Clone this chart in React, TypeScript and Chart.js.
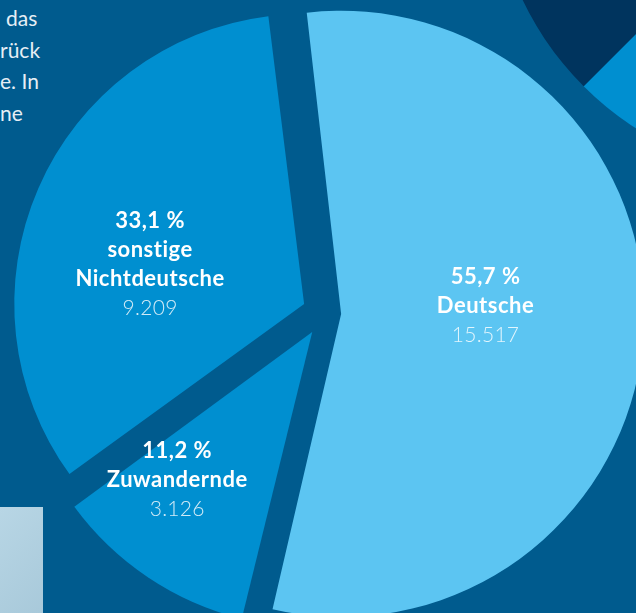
import React, { useEffect, useRef } from "react";
import { Chart, registerables } from "chart.js";

Chart.register(...registerables);

// ---- data ----
const categories = ["Deutsche", "Zuwandernde", "sonstige Nichtdeutsche"];
const labelLines = [["Deutsche"], ["Zuwandernde"], ["sonstige", "Nichtdeutsche"]];
const counts = [15517, 3126, 9209];
const sliceColors = ["#5cc5f2", "#008fd0", "#008fd0"];
const sliceOffsets = [64.6, 92, 91];
const labelTurn = [-6.5, 8.6, -9.2];
const labelReach = [0.504, 0.698, 0.554];

const cornerValues = [25, 75];
const cornerColors = ["#008fd0", "#00345e"];

const introFragments = ["das", "rück", "e. In", "ne"];
const introIndent = [6, 0, 0, 0];

const BG = "#005b8e";
const FONT = "Lato, 'Open Sans', sans-serif";

const total = counts.reduce((a, b) => a + b, 0);
const fmtPct = (v: number) => ((v / total) * 100).toFixed(1).replace(".", ",") + " %";
const fmtNum = (v: number) => String(v).replace(/\B(?=(\d{3})+(?!\d))/g, ".");

const labelPlugin = {
  id: "sliceLabels",
  afterDatasetsDraw(chart: any) {
    const meta = chart.getDatasetMeta(0);
    const ctx = chart.ctx as any;
    ctx.save();
    ctx.textAlign = "center";
    ctx.textBaseline = "middle";
    meta.data.forEach((arc: any, i: number) => {
      const p = arc.getProps(["x", "y", "startAngle", "endAngle", "outerRadius"], true);
      const mid = (p.startAngle + p.endAngle) / 2;
      const shift = (arc.options.offset || 0) / 4;
      const ax = p.x + Math.cos(mid) * shift;
      const ay = p.y + Math.sin(mid) * shift;
      const ang = mid + (labelTurn[i] * Math.PI) / 180;
      const dist = p.outerRadius * labelReach[i];
      const cx = ax + Math.cos(ang) * dist;
      const cy = ay + Math.sin(ang) * dist;
      const bold = [fmtPct(counts[i]), ...labelLines[i]];
      const n = bold.length + 1;
      const lh = 29;
      const y0 = cy - ((n - 1) * lh) / 2;
      ctx.fillStyle = "#ffffff";
      ctx.font = `700 22px ${FONT}`;
      ctx.letterSpacing = "0.5px";
      bold.forEach((t, k) => ctx.fillText(t, cx, y0 + k * lh));
      ctx.font = `300 21px ${FONT}`;
      ctx.letterSpacing = "0.3px";
      ctx.fillStyle = "rgba(255,255,255,0.82)";
      ctx.fillText(fmtNum(counts[i]), cx, y0 + bold.length * lh);
    });
    ctx.restore();
  },
};

export default function App() {
  const mainRef = useRef<HTMLCanvasElement>(null);
  const cornerRef = useRef<HTMLCanvasElement>(null);

  useEffect(() => {
    const main = new Chart(mainRef.current!, {
      type: "pie",
      data: {
        labels: categories,
        datasets: [
          {
            data: counts,
            backgroundColor: sliceColors,
            borderWidth: 0,
            offset: sliceOffsets,
          },
        ],
      },
      options: {
        animation: false,
        responsive: false,
        devicePixelRatio: 1,
        rotation: -7,
        radius: 287,
        layout: { padding: 0 },
        plugins: { legend: { display: false }, tooltip: { enabled: false } },
        events: [],
      },
      plugins: [labelPlugin],
    } as any);

    const corner = new Chart(cornerRef.current!, {
      type: "pie",
      data: {
        labels: ["a", "b"],
        datasets: [{ data: cornerValues, backgroundColor: cornerColors, borderWidth: 0 }],
      },
      options: {
        animation: false,
        responsive: false,
        devicePixelRatio: 1,
        rotation: 135,
        radius: 313,
        layout: { padding: 0 },
        plugins: { legend: { display: false }, tooltip: { enabled: false } },
        events: [],
      },
    } as any);

    return () => {
      main.destroy();
      corner.destroy();
    };
  }, []);

  return (
    <div
      style={{
        position: "fixed",
        left: 0,
        top: 0,
        width: 636,
        height: 613,
        overflow: "hidden",
        background: BG,
        fontFamily: FONT,
      }}
    >
      <div
        style={{
          position: "absolute",
          left: 0,
          top: 2,
          fontSize: 21,
          lineHeight: "31.5px",
          color: "#e6eef5",
          whiteSpace: "nowrap",
        }}
      >
        {introFragments.map((t, i) => (
          <div key={i} style={{ paddingLeft: introIndent[i] }}>
            {t}
          </div>
        ))}
      </div>
      <div
        style={{
          position: "absolute",
          left: 0,
          top: 507,
          width: 43,
          height: 106,
          background: "linear-gradient(135deg, #b8d6e5, #a8c9da)",
        }}
      />
      <canvas
        ref={cornerRef}
        width={700}
        height={700}
        style={{ position: "absolute", left: 455, top: -485, width: 700, height: 700 }}
      />
      <canvas
        ref={mainRef}
        width={800}
        height={800}
        style={{ position: "absolute", left: -75, top: -87, width: 800, height: 800 }}
      />
    </div>
  );
}
